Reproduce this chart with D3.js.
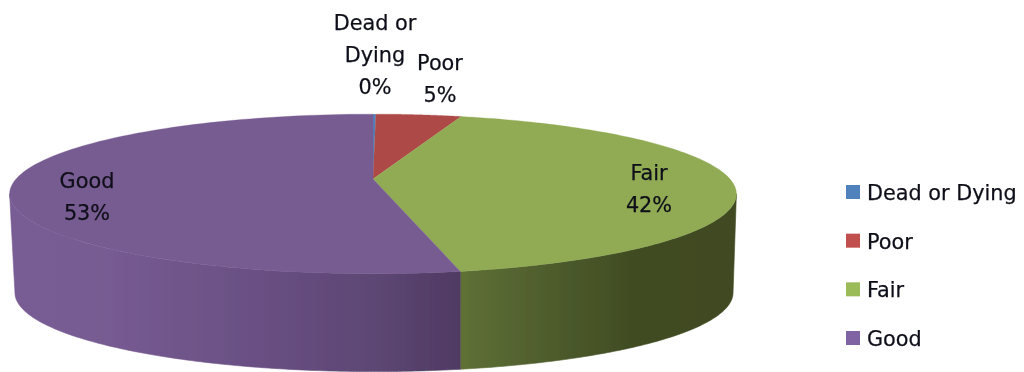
<!DOCTYPE html>
<html>
<head>
<meta charset="utf-8">
<script src="https://cdn.jsdelivr.net/npm/d3@7/dist/d3.min.js"></script>
<style>
html,body{margin:0;padding:0;background:#fff;}
svg{display:block;}
text{font-family:"DejaVu Sans",sans-serif;font-size:20.8px;fill:#10101a;stroke:#10101a;stroke-width:0.25px;}
</style>
</head>
<body>
<svg id="c" width="1024" height="372"></svg>
<script>
const categories = ["Dead or Dying", "Poor", "Fair", "Good"];
const values = [0.15, 4.55, 42.1, 53.2];
const labelLines = [["Dead or", "Dying", "0%"], ["Poor", "5%"], ["Fair", "42%"], ["Good", "53%"]];
const topColors = ["#4f81bd", "#ad4a47", "#90ab53", "#775b92"];
const legendColors = ["#4f81bd", "#c0504d", "#9bbb59", "#8064a2"];

const svg = d3.select("#c");
const defs = svg.append("defs");
defs.append("filter").attr("id", "soft").attr("x", "-5%").attr("y", "-5%").attr("width", "110%").attr("height", "110%")
  .append("feGaussianBlur").attr("stdDeviation", 0.55);

// Perspective disc
const cx = 373, cy = 179, R = 357, A = 77, k = 0.187;
const depth = 99, bottomScale = 0.988;
function proj(theta, level) {
  const s = Math.sin(theta), c = Math.cos(theta), w = 1 + k * c;
  const sc = level ? bottomScale : 1;
  return [cx + (level ? 1 : 0) + sc * R * s / w, cy + (level ? depth : 0) - sc * A * c / w];
}
const pie = d3.pie().sort(null).value(d => d);
const arcs = pie(values);
const line = d3.line();
const samples = (a, b) => d3.range(0, 121).map(i => a + (b - a) * i / 120);

// Front wall limits (silhouette of the disc)
const front0 = Math.PI - Math.acos(k), front1 = Math.PI + Math.acos(k);

function grad(id, stops) {
  const g = defs.append("linearGradient").attr("id", id).attr("gradientUnits", "userSpaceOnUse")
    .attr("x1", 0).attr("x2", 1024).attr("y1", 0).attr("y2", 0);
  stops.forEach(([x, col]) => g.append("stop").attr("offset", x / 1024).attr("stop-color", col));
}
grad("sideFair", [[461, "#5f7036"], [560, "#4c5a2b"], [640, "#3f4b22"], [736, "#3f4a22"]]);
grad("sideGood", [[10, "#785c94"], [100, "#775b92"], [250, "#6a5084"], [380, "#5c4673"], [461, "#4f3a62"]]);
const sideFill = [null, null, "url(#sideFair)", "url(#sideGood)"];

const chart = svg.append("g").attr("filter", "url(#soft)");

// Side walls
arcs.forEach((d, i) => {
  const a = Math.max(d.startAngle, front0), b = Math.min(d.endAngle, front1);
  if (b <= a) return;
  const ts = samples(a, b);
  const pts = ts.map(t => proj(t, 0)).concat(ts.slice().reverse().map(t => proj(t, 1)));
  chart.append("path").attr("d", line(pts) + "Z").attr("fill", sideFill[i])
    .attr("stroke", sideFill[i]).attr("stroke-width", 0.6);
});

// Top faces
arcs.forEach((d, i) => {
  const pts = [[cx, cy]].concat(samples(d.startAngle, d.endAngle).map(t => proj(t, 0)));
  chart.append("path").attr("d", line(pts) + "Z").attr("fill", topColors[i])
    .attr("stroke", topColors[i]).attr("stroke-width", 0.3);
});

// Data labels
const labelCenter = [375, 440, 649, 87];
const labelFirstBaseline = [30, 70, 180, 188];
const lineStep = 32;
labelLines.forEach((lines, i) => {
  lines.forEach((t, j) => {
    chart.append("text").attr("x", labelCenter[i]).attr("y", labelFirstBaseline[i] + j * lineStep)
      .attr("text-anchor", "middle").text(t);
  });
});

// Legend
const legendY = d3.scalePoint().domain(categories).range([192, 338]);
categories.forEach((c, i) => {
  chart.append("rect").attr("x", 846).attr("y", legendY(c) - 7).attr("width", 14).attr("height", 14)
    .attr("fill", legendColors[i]);
  chart.append("text").attr("x", 867).attr("y", legendY(c) + 8).text(c);
});
</script>
</body>
</html>
